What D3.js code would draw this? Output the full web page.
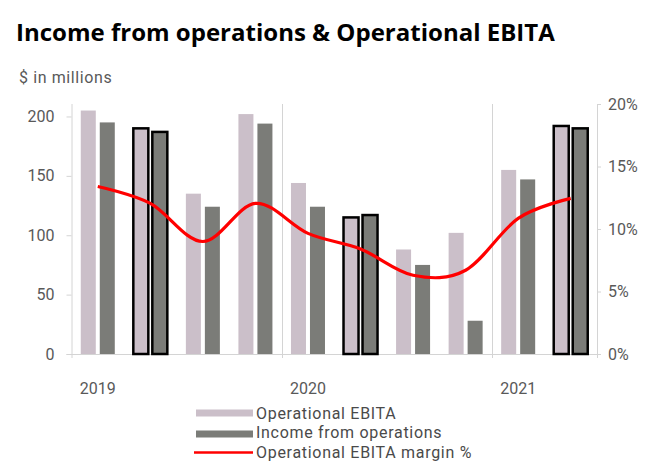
<!DOCTYPE html>
<html>
<head>
<meta charset="utf-8">
<script src="https://cdn.jsdelivr.net/npm/d3@7"></script>
<style>
  html, body { margin: 0; padding: 0; background: #fff; }
  svg { display: block; font-family: Roboto, "Open Sans", sans-serif; }
</style>
</head>
<body>
<svg id="chart" width="669" height="467"></svg>
<script>
// ---- data ----
const quarters = ["Q1 2019","Q2 2019","Q3 2019","Q4 2019","Q1 2020","Q2 2020","Q3 2020","Q4 2020","Q1 2021","Q2 2021"];
const operationalEBITA = [205, 190, 135, 202, 144, 115, 88, 102, 155, 192];
const incomeFromOperations = [195, 187, 124, 194, 124, 117, 75, 28, 147, 190];
const ebitaMargin = [0.134, 0.1205, 0.09, 0.1205, 0.0965, 0.084, 0.063, 0.067, 0.1085, 0.1245];
const highlightedQuarters = ["Q2 2019", "Q2 2020", "Q2 2021"];
const yearLabels = [{q: "Q1 2019", label: "2019"}, {q: "Q1 2020", label: "2020"}, {q: "Q1 2021", label: "2021"}];
const yearBoundaries = ["Q1 2020", "Q1 2021"];
const leftTicks = [0, 50, 100, 150, 200];
const rightTicks = [0, 0.05, 0.10, 0.15, 0.20];
const seriesNames = ["Operational EBITA", "Income from operations", "Operational EBITA margin %"];

// ---- layout ----
const svg = d3.select("#chart");
const pL = 71.5, pR = 597, pT = 104, pB = 354;
const lightColor = "#cbbfc9", darkColor = "#7b7c78";
const axisColor = "#d4d4d4", textColor = "#595959";
const bodyFont = "Roboto, 'Open Sans', sans-serif";

const x = d3.scaleBand().domain(quarters).range([pL, pR]).padding(0);
const xInner = d3.scaleBand().domain(["ebita", "income"]).range([0, x.bandwidth()])
  .paddingInner(0.21).paddingOuter(0.488);
const yL = d3.scaleLinear().domain([0, 210.5]).range([pB, pT]);
const yR = d3.scaleLinear().domain([0, 0.20]).range([pB, pT]);

// title
const title = svg.append("text").attr("x", 16).attr("y", 40.5)
  .attr("font-family", "'Open Sans', sans-serif")
  .attr("font-weight", 700).attr("font-size", 24).attr("fill", "#000")
  .text("Income from operations & Operational EBITA");
const tw = title.node().getComputedTextLength();
title.attr("font-size", 24 * 539 / tw);

svg.append("text").attr("x", 19).attr("y", 83).attr("font-size", 16).attr("fill", textColor)
  .attr("letter-spacing", 0.6)
  .text("$ in millions");

// gridlines at year boundaries
svg.append("g").selectAll("line").data(yearBoundaries).join("line")
  .attr("x1", d => Math.round(x(d)) + 0.5).attr("x2", d => Math.round(x(d)) + 0.5)
  .attr("y1", pT).attr("y2", pB + 4)
  .attr("stroke", axisColor).attr("stroke-width", 1);

// bottom axis line
svg.append("line").attr("x1", pL - 5).attr("x2", pR).attr("y1", pB + 0.5).attr("y2", pB + 0.5)
  .attr("stroke", axisColor);

// left axis
const gL = svg.append("g").attr("transform", `translate(${pL},0)`)
  .call(d3.axisLeft(yL).tickValues(leftTicks).tickSize(5).tickSizeOuter(0).tickPadding(12));
gL.select(".domain").attr("stroke", axisColor).attr("d", `M0.5,${pT}V${pB + 4}`);
gL.selectAll(".tick line").attr("stroke", axisColor);
gL.selectAll(".tick text").attr("fill", textColor).attr("font-size", 16)
  .attr("font-family", bodyFont);

// right axis
const gR = svg.append("g").attr("transform", `translate(${pR},0)`)
  .call(d3.axisRight(yR).tickValues(rightTicks).tickSize(4).tickSizeOuter(0).tickPadding(7)
    .tickFormat(d3.format(".0%")));
gR.select(".domain").attr("stroke", axisColor).attr("d", `M0.5,${pT}V${pB + 4}`);
gR.selectAll(".tick line").attr("stroke", axisColor);
gR.selectAll(".tick text").attr("fill", textColor).attr("font-size", 16)
  .attr("font-family", bodyFont);

// year labels
svg.append("g").selectAll("text").data(yearLabels).join("text")
  .attr("x", d => x(d.q) + x.bandwidth() / 2).attr("y", 394)
  .attr("text-anchor", "middle").attr("font-size", 16).attr("fill", textColor)
  .text(d => d.label);

// bars
const gBars = svg.append("g");
const barData = [];
quarters.forEach((q, i) => {
  barData.push({q, key: "ebita", v: operationalEBITA[i], fill: lightColor});
  barData.push({q, key: "income", v: incomeFromOperations[i], fill: darkColor});
});
gBars.selectAll("rect").data(barData).join("rect")
  .attr("x", d => x(d.q) + xInner(d.key))
  .attr("width", xInner.bandwidth())
  .attr("y", d => yL(d.v))
  .attr("height", d => yL(0) - yL(d.v))
  .attr("fill", d => d.fill)
  .attr("stroke", d => highlightedQuarters.includes(d.q) ? "#000" : "none")
  .attr("stroke-width", 2.5);

// margin line
const line = d3.line()
  .x((d, i) => x(quarters[i]) + x.bandwidth() / 2)
  .y(d => yR(d))
  .curve(d3.curveCatmullRom.alpha(0));
svg.append("path").datum(ebitaMargin).attr("d", line)
  .attr("fill", "none").attr("stroke", "#ff0000").attr("stroke-width", 3.2);

// legend
const lg = svg.append("g");
lg.append("rect").attr("x", 196).attr("y", 409.5).attr("width", 57).attr("height", 7).attr("fill", lightColor);
lg.append("rect").attr("x", 196).attr("y", 430.5).attr("width", 57).attr("height", 7).attr("fill", darkColor);
lg.append("line").attr("x1", 194).attr("x2", 253).attr("y1", 452.5).attr("y2", 452.5)
  .attr("stroke", "#ff0000").attr("stroke-width", 2.5);
const legendY = [418.5, 438, 457.5];
lg.selectAll("text").data(seriesNames).join("text")
  .attr("x", 256).attr("y", (d, i) => legendY[i])
  .attr("font-size", 16).attr("fill", "#4a4a4a").attr("letter-spacing", 0.7)
  .text(d => d);
</script>
</body>
</html>
